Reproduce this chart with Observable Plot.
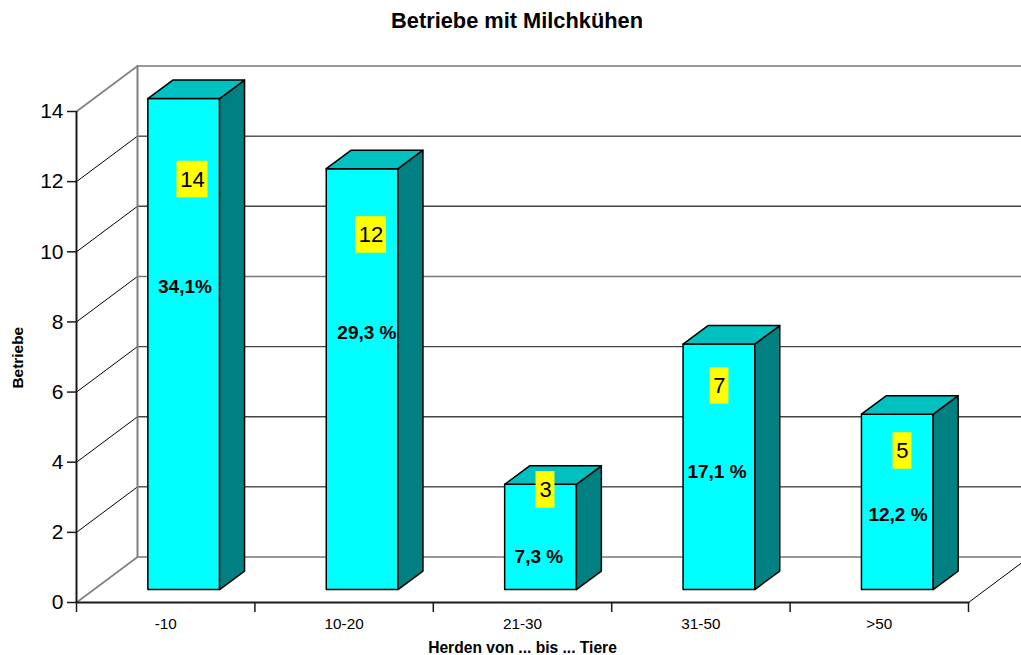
<!DOCTYPE html>
<html><head><meta charset="utf-8">
<script src="https://cdn.jsdelivr.net/npm/d3@7"></script>
<script src="https://cdn.jsdelivr.net/npm/@observablehq/plot@0.6"></script>
<style>
html,body{margin:0;padding:0;background:#fff;overflow:hidden}
#title{height:40px;font:bold 21.8px/42px "Liberation Sans",Arial,sans-serif;text-align:center;color:#000;width:1034px}
svg{display:block}
</style></head><body>
<div id="title">Betriebe mit Milchkühen</div>
<div id="chart"></div>
<script>
const categories = ["-10","10-20","21-30","31-50",">50"];
const counts = [14,12,3,7,5];
const percentLabels = ["34,1%","29,3 %","7,3 %","17,1 %","12,2 %"];
const yTicks = [0,2,4,6,8,10,12,14];
// hand-placed annotation anchors of the original, in axis units
const countAnchorX = [0.65,1.651,2.629,3.604,4.63];
const countAnchorY = [12.06,10.48,3.21,6.18,4.32];
const percentAnchorX = [0.608,1.628,2.592,3.59,4.605];
const percentAnchorY = [9.01,7.70,1.31,3.71,2.51];

// oblique projection, in axis units
const wall = {dx:0.342, dy:1.297};
const bar = {x0:0.4, w:0.402, lift:0.37, dx:0.14, dy:0.527};
const rightEdge = 5.297;
const rows = categories.map((c,i)=>({i,c,v:counts[i]}));
const darkGrid = new Set([2,12]);
const midGrid = new Set([4,6,10]);
const lightGrid = new Set([0,8,14]);
const grayDiagonals = new Set([0,14]);

const poly = (pts,id)=>pts.concat([pts[0]]).map(([x,y])=>({x,y,id}));
const frontFaces=[],sideFaces=[],topFaces=[];
rows.forEach(({i,v})=>{
  const a=i+bar.x0,b=a+bar.w,y0=bar.lift,y1=bar.lift+v;
  frontFaces.push(...poly([[a,y0],[b,y0],[b,y1],[a,y1]],i));
  sideFaces.push(...poly([[b,y0],[b+bar.dx,y0+bar.dy],[b+bar.dx,y1+bar.dy],[b,y1]],i));
  topFaces.push(...poly([[a,y1],[b,y1],[b+bar.dx,y1+bar.dy],[a+bar.dx,y1+bar.dy]],i));
});
const backLine = v=>[{x:wall.dx,y:v+wall.dy,id:v},{x:rightEdge,y:v+wall.dy,id:v}];
const diagonal = v=>[{x:0,y:v,id:v},{x:wall.dx,y:v+wall.dy,id:v}];
const backGrid = set=>yTicks.filter(v=>set.has(v)).flatMap(backLine);
const diagonals = g=>yTicks.filter(v=>grayDiagonals.has(v)===g).flatMap(diagonal);
const wallEdge=[{x:wall.dx,y:wall.dy},{x:wall.dx,y:14+wall.dy}];
const rightDiag=[{x:5,y:0},{x:rightEdge,y:(rightEdge-5)/wall.dx*wall.dy}];
const frontBase=[{x:0,y:0},{x:5,y:0}];
const boxes=rows.map(({i,v})=>{const hw=String(v).length>1?0.087:0.053;
  return {x1:countAnchorX[i]-hw,x2:countAnchorX[i]+hw,y1:countAnchorY[i]-0.522,y2:countAnchorY[i]+0.522};});
const ink="#1a1a1a";
const F='"Liberation Sans",Arial,sans-serif';
const chart=Plot.plot({
  width:1021,height:615,
  marginLeft:76,marginRight:53,marginTop:71,marginBottom:53,
  style:{fontFamily:F,background:"#fff",overflow:"visible"},
  x:{domain:[0,5],axis:null},
  y:{domain:[0,14],axis:null},
  marks:[
    Plot.line(backGrid(darkGrid),{x:"x",y:"y",z:"id",stroke:"#000",strokeWidth:1}),
    Plot.line(backGrid(midGrid),{x:"x",y:"y",z:"id",stroke:"#444",strokeWidth:1.4}),
    Plot.line(backGrid(lightGrid),{x:"x",y:"y",z:"id",stroke:"#777",strokeWidth:1.6}),
    Plot.line(diagonals(false),{x:"x",y:"y",z:"id",stroke:"#000",strokeWidth:1}),
    Plot.line(diagonals(true),{x:"x",y:"y",z:"id",stroke:"#808080",strokeWidth:1.6}),
    Plot.line(wallEdge,{x:"x",y:"y",stroke:"#808080",strokeWidth:2}),
    Plot.line(rightDiag,{x:"x",y:"y",stroke:"#000",strokeWidth:1}),
    Plot.line(frontFaces,{x:"x",y:"y",z:"id",fill:"#00ffff",stroke:"#000",strokeWidth:1.5}),
    Plot.line(sideFaces,{x:"x",y:"y",z:"id",fill:"#008080",stroke:"#000",strokeWidth:1.5}),
    Plot.line(topFaces,{x:"x",y:"y",z:"id",fill:"#00c0c0",stroke:"#000",strokeWidth:1.5}),
    Plot.rect(boxes,{x1:"x1",x2:"x2",y1:"y1",y2:"y2",fill:"#ffff00",inset:0}),
    Plot.text(rows,{x:(d)=>countAnchorX[d.i],y:(d)=>countAnchorY[d.i],text:(d)=>String(d.v),fontSize:22,fill:"#000"}),
    Plot.text(rows,{x:(d)=>percentAnchorX[d.i],y:(d)=>percentAnchorY[d.i],text:(d)=>percentLabels[d.i],fontSize:19,fontWeight:"bold",fill:"#000"}),
    Plot.ruleX([0],{y1:0,y2:14,stroke:ink,strokeWidth:2}),
    Plot.line(frontBase,{x:"x",y:"y",stroke:ink,strokeWidth:2}),
    Plot.axisY({ticks:yTicks,tickFormat:d=>String(d),tickSize:9,tickPadding:4,fontSize:21,label:null,color:"#000",stroke:ink,strokeWidth:1.5}),
    Plot.axisX({ticks:[0,1,2,3,4,5],tickFormat:()=>"",tickSize:10,label:null,stroke:ink,strokeWidth:1.5}),
    Plot.axisX({ticks:categories.map((c,i)=>i+0.5),tickFormat:d=>categories[Math.floor(d)],tickSize:0,tickPadding:16,fontSize:15.3,label:null,color:"#000"}),
    Plot.text(["Herden von ... bis ... Tiere"],{x:2.5,frameAnchor:"bottom",dy:50,fontSize:15.6,fontWeight:"bold",fill:"#000"}),
    Plot.text(["Betriebe"],{y:6.98,frameAnchor:"left",dx:-58,rotate:-90,textAnchor:"middle",fontSize:15.4,fontWeight:"bold",fill:"#000"})
  ]
});
document.getElementById("chart").append(chart);
</script></body></html>
